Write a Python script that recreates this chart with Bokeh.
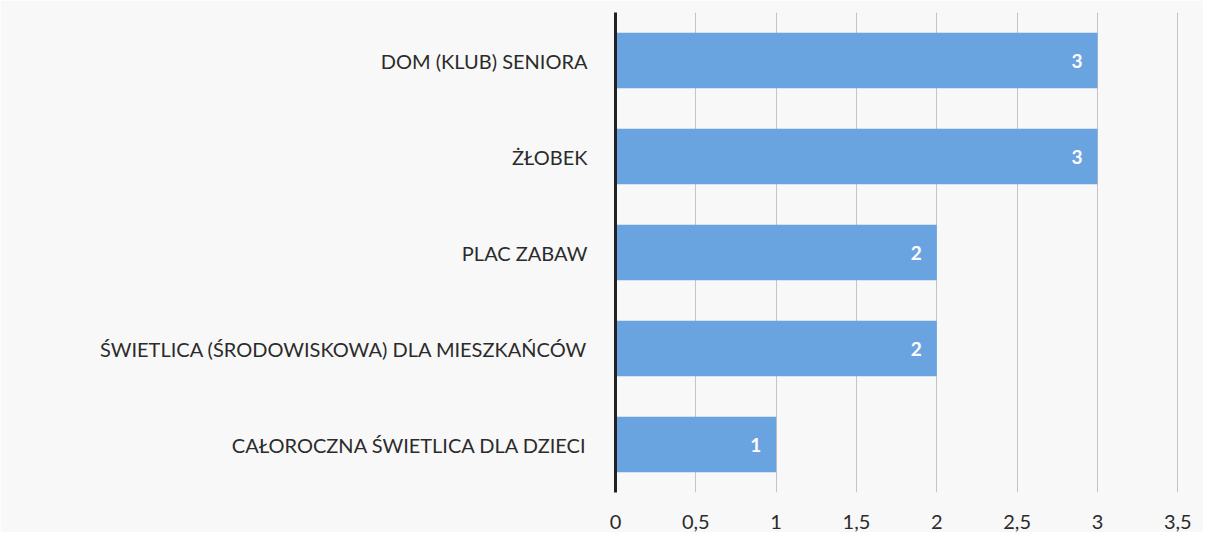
from bokeh.plotting import figure
from bokeh.models import ColumnDataSource, FactorRange, Range1d, FixedTicker
from bokeh.core.properties import value
from bokeh.embed import file_html
from bokeh.resources import INLINE

categories = ["DOM (KLUB) SENIORA", "ŻŁOBEK", "PLAC ZABAW",
              "ŚWIETLICA (ŚRODOWISKOWA) DLA MIESZKAŃCÓW",
              "CAŁOROCZNA ŚWIETLICA DLA DZIECI"]
counts = [3, 3, 2, 2, 1]
tick_values = [0, 0.5, 1, 1.5, 2, 2.5, 3, 3.5]
tick_labels = ["0", "0,5", "1", "1,5", "2", "2,5", "3", "3,5"]

FONT = "Lato"

src = ColumnDataSource(dict(cat=categories, val=counts, lab=[str(c) for c in counts]))

p = figure(width=1203, height=532, output_backend="svg", toolbar_location=None,
           y_range=FactorRange(factors=list(reversed(categories))),
           x_range=Range1d(0, 3.66),
           min_border_left=615, min_border_right=0, min_border_top=12, min_border_bottom=40)
p.outline_line_color = None
p.background_fill_color = "#f8f8f8"
p.border_fill_color = "#f8f8f8"

p.hbar(y="cat", right="val", left=0, height=0.58, source=src,
       fill_color="#6aa4e0", line_color=None)
p.text(x="val", y="cat", text="lab", source=src, text_align="right",
       text_baseline="middle", x_offset=-15, text_color="white",
       text_font=value(FONT), text_font_style="bold", text_font_size="19px")

p.xaxis.ticker = FixedTicker(ticks=tick_values)
p.xaxis.major_label_overrides = {v: l for v, l in zip(tick_values, tick_labels)}
p.xaxis.axis_line_color = None
p.xaxis.major_tick_line_color = None
p.xaxis.minor_tick_line_color = None
p.xaxis.major_label_standoff = 16
p.xaxis.major_label_text_font = FONT
p.xaxis.major_label_text_font_size = "20px"
p.xaxis.major_label_text_color = "#2b2b2b"

p.yaxis.axis_line_color = "#222222"
p.yaxis.axis_line_width = 3
p.yaxis.major_tick_line_color = None
p.yaxis.minor_tick_line_color = None
p.yaxis.major_label_standoff = 22
p.yaxis.major_label_text_font = FONT
p.yaxis.major_label_text_font_size = "20px"
p.yaxis.major_label_text_color = "#2b2b2b"

p.ygrid.grid_line_color = None
p.xgrid.grid_line_color = "#c4c4c4"
p.xgrid.grid_line_width = 1

open("out.html", "w").write(file_html(p, INLINE))
